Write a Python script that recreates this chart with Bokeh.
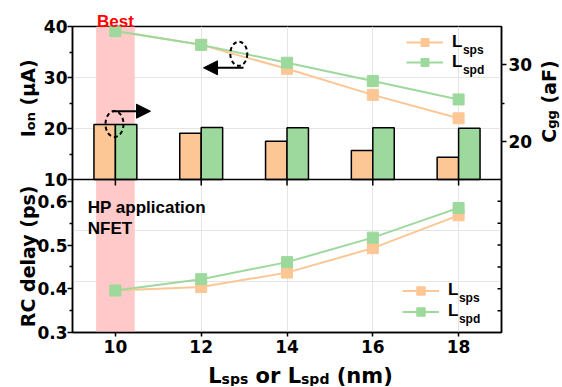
import numpy as np
from bokeh.plotting import figure
from bokeh.core.properties import value
from bokeh.models import (LinearAxis, Range1d, FixedTicker, CustomJSTickFormatter, Span,
                          BoxAnnotation, Label, Legend, LegendItem, Arrow, NormalHead, ColumnDataSource)
from bokeh.transform import dodge
from bokeh.embed import file_html
from bokeh.resources import INLINE

# ---------------- data ----------------
L_VALUES = [10, 12, 14, 16, 18]
ION_SPS = [39.1, 36.4, 31.7, 26.6, 22.0]
ION_SPD = [39.1, 36.4, 32.9, 29.3, 25.7]
CGG_SPS = [22.2, 21.05, 20.0, 18.8, 17.9]
CGG_SPD = [22.2, 21.8, 21.75, 21.75, 21.7]
RC_SPS = [0.396, 0.404, 0.437, 0.493, 0.568]
RC_SPD = [0.396, 0.422, 0.461, 0.517, 0.585]
BEST_L = 10
X_TICKS = [10, 12, 14, 16, 18]
ION_TICKS = [10, 20, 30, 40]
ION_MINOR = [15, 25, 35]
CGG_TICKS = [20, 30]
CGG_MINOR = [25]
RC_TICKS = [0.3, 0.4, 0.5, 0.6]
RC_MINOR = [0.35, 0.45, 0.55]
RC_RIGHT_TICKS = [0.35, 0.4, 0.45, 0.5, 0.55, 0.6]

# panel ranges (upper panel: Ion / Cgg, lower panel: RC delay)
X_MIN, X_MAX = 9, 19
ION_MIN, ION_MAX = 10, 40
CGG_MIN, CGG_MAX = 15, 35
RC_MIN, RC_MAX = 0.3, 0.65

ORANGE = "#FCC794"
GREEN = "#9DD99C"
BAND = "#FFC9C9"
INK = "black"

# ---------------- layout geometry (px) ----------------
W, H = 562, 386
BL, FW = 72, 429
BR = W - BL - FW
BT = 26
PH = 153                 # height of each panel
FH = 2 * PH
BB = H - BT - FH
F_TOP = BT
F_BOT = BT + FH

# each range is doubled downwards so that the upper panel holds Ion/Cgg and the lower panel RC
ION_RANGE = Range1d(ION_MIN - (ION_MAX - ION_MIN), ION_MAX)
CGG_RANGE = Range1d(CGG_MIN - (CGG_MAX - CGG_MIN), CGG_MAX)
RC_RANGE = Range1d(RC_MIN, RC_MAX + (RC_MAX - RC_MIN))


def dx(px):
    return X_MIN + (px - BL) * (X_MAX - X_MIN) / FW


def dy(py):  # page pixel -> Ion units (default range)
    return ION_MAX - (py - F_TOP) * (ION_MAX - ION_MIN) / PH


def rc_to_ion(v):
    return ION_MIN - (RC_MAX - v) / (RC_MAX - RC_MIN) * (ION_MAX - ION_MIN)


DV = {' ': .348, '(': .458, ')': .458, 'A': .774, 'C': .734, 'F': .683, 'I': .372, 'L': .637,
      'a': .675, 'd': .716, 'g': .716, 'm': 1.042, 'n': .712, 'o': .687, 'p': .716, 'r': .493,
      's': .595, 'μ': .722, 'R': .770, 'e': .678, 'l': .343, 'y': .652}
LB = {' ': .278, 'L': .611, 's': .556, 'p': .611, 'd': .611}


def tw(t, size, table):
    return sum(table.get(c, 0.6) for c in t) * size


TITLE_FONT = "DejaVu Sans"
TICK_FONT = "DejaVu Sans"
ANN_FONT = "Liberation Sans"

p = figure(width=W, height=H, x_range=Range1d(X_MIN, X_MAX), y_range=ION_RANGE,
           x_axis_location=None, y_axis_location=None, toolbar_location=None,
           output_backend="svg", title=None,
           min_border_left=BL, min_border_right=BR, min_border_top=BT, min_border_bottom=BB)
p.extra_y_ranges = {"cgg": CGG_RANGE, "rc": RC_RANGE}
p.outline_line_color = INK
p.outline_line_width = 1.5
p.outline_line_alpha = 1


def rich_text(pieces, center, base, vertical, font, table, color=INK):
    total = sum(tw(t, s, table) for t, s, _ in pieces)
    pos = center - total / 2 if not vertical else center + total / 2
    xs, ys, texts, sizes = [], [], [], []
    for t, s, d in pieces:
        lead = tw(' ' * (len(t) - len(t.lstrip())), s, table)
        if vertical:
            xs.append(dx(base + d))
            ys.append(dy(pos - lead))
            pos -= tw(t, s, table)
        else:
            xs.append(dx(pos + lead))
            ys.append(dy(base + d))
            pos += tw(t, s, table)
        texts.append(t.strip())
        sizes.append(f"{s}px")
    cds = ColumnDataSource(dict(x=xs, y=ys, text=texts, size=sizes))
    p.text(x="x", y="y", text="text", text_font_size="size", source=cds,
           angle=np.pi / 2 if vertical else 0, text_font=value(font), text_font_style="bold",
           text_align="left", text_baseline="alphabetic", text_color=color, level="annotation")


def style_axis(ax, tick_out=5, minor_out=3, standoff=0):
    ax.axis_line_color = INK
    ax.axis_line_width = 1.5
    ax.major_tick_line_color = INK
    ax.minor_tick_line_color = INK
    ax.major_tick_line_width = 1.5
    ax.minor_tick_line_width = 1.5
    ax.major_tick_in = 0
    ax.major_tick_out = tick_out
    ax.minor_tick_in = 0
    ax.minor_tick_out = minor_out
    ax.major_label_standoff = standoff
    ax.major_label_text_font = TICK_FONT
    ax.major_label_text_font_style = "bold"
    ax.major_label_text_font_size = "17px"
    ax.major_label_text_color = INK


# left axis: Ion ticks in the upper panel, RC ticks in the lower panel
axl = LinearAxis(ticker=FixedTicker(ticks=ION_TICKS + [rc_to_ion(v) for v in RC_TICKS],
                                    minor_ticks=ION_MINOR + [rc_to_ion(v) for v in RC_MINOR]),
                 formatter=CustomJSTickFormatter(
                     args=dict(imin=ION_MIN, ispan=ION_MAX - ION_MIN, rmax=RC_MAX, rspan=RC_MAX - RC_MIN),
                     code="""
                     if (tick >= imin - 1e-9) return tick.toFixed(0);
                     const v = rmax - (imin - tick) / ispan * rspan;
                     return v.toFixed(1);"""))
style_axis(axl, 5, 3, 0)
p.add_layout(axl, "left")

axr = LinearAxis(y_range_name="cgg", ticker=FixedTicker(ticks=CGG_TICKS, minor_ticks=CGG_MINOR))
style_axis(axr, 5, 3, 2)
p.add_layout(axr, "right")

axb = LinearAxis(ticker=FixedTicker(ticks=X_TICKS, minor_ticks=[]))
style_axis(axb, 4, 0, 3)
p.add_layout(axb, "below")

# divider between the two panels and inner ticks
p.add_layout(Span(location=ION_MIN, dimension="width", line_color=INK, line_width=1.5))
p.ray(x=X_TICKS, y=[ION_MIN] * len(X_TICKS), length=6, length_units="screen", angle=-np.pi / 2,
      line_color=INK, line_width=1.5)
p.ray(x=[X_MAX] * len(RC_RIGHT_TICKS), y=RC_RIGHT_TICKS, y_range_name="rc", length=4,
      length_units="screen", angle=np.pi, line_color=INK, line_width=1.5)

p.add_layout(BoxAnnotation(left=BEST_L - 0.45, right=BEST_L + 0.45, fill_color=BAND, fill_alpha=1,
                           line_color=None, level="underlay"))

src = ColumnDataSource(dict(x=L_VALUES, ion_sps=ION_SPS, ion_spd=ION_SPD,
                            cgg_sps=CGG_SPS, cgg_spd=CGG_SPD, rc_sps=RC_SPS, rc_spd=RC_SPD))

# bars (Cgg)
p.vbar(x=dodge("x", -0.25, range=p.x_range), top="cgg_sps", bottom=CGG_MIN, width=0.5,
       y_range_name="cgg", source=src, fill_color=ORANGE, line_color=INK, line_width=1.5)
p.vbar(x=dodge("x", 0.25, range=p.x_range), top="cgg_spd", bottom=CGG_MIN, width=0.5,
       y_range_name="cgg", source=src, fill_color=GREEN, line_color=INK, line_width=1.5)

# Ion lines
l1 = p.line("x", "ion_sps", source=src, line_color=ORANGE, line_width=2)
m1 = p.scatter("x", "ion_sps", source=src, marker="square", size=11, fill_color=ORANGE, line_color=ORANGE)
l2 = p.line("x", "ion_spd", source=src, line_color=GREEN, line_width=2)
m2 = p.scatter("x", "ion_spd", source=src, marker="square", size=11, fill_color=GREEN, line_color=GREEN)

# RC lines
r1 = p.line("x", "rc_sps", source=src, y_range_name="rc", line_color=ORANGE, line_width=2)
s1 = p.scatter("x", "rc_sps", source=src, y_range_name="rc", marker="square", size=11,
               fill_color=ORANGE, line_color=ORANGE)
r2 = p.line("x", "rc_spd", source=src, y_range_name="rc", line_color=GREEN, line_width=2)
s2 = p.scatter("x", "rc_spd", source=src, y_range_name="rc", marker="square", size=11,
               fill_color=GREEN, line_color=GREEN)


def add_legend(items, lx, top_row, pitch):
    leg = Legend(items=items, location=(lx, F_BOT - (top_row - pitch / 2 + 2 * pitch)),
                 padding=0, spacing=0, margin=0, glyph_width=37, glyph_height=pitch,
                 label_height=pitch, label_width=10, label_standoff=9, border_line_color=None,
                 background_fill_alpha=0, label_text_font=ANN_FONT, label_text_font_style="bold",
                 label_text_font_size="17px", label_text_color=INK)
    p.add_layout(leg)
    x_sub = BL + lx + 37 + 9 + tw("L", 17, LB)
    for i, sub in enumerate(["sps", "spd"]):
        p.add_layout(Label(x=dx(x_sub), y=dy(top_row + i * pitch + 7.8), text=sub, text_font=ANN_FONT,
                           text_font_style="bold", text_font_size="12px", text_align="left",
                           text_baseline="alphabetic", text_color=INK))


add_legend([LegendItem(label="L", renderers=[l1, m1]), LegendItem(label="L", renderers=[l2, m2])],
           334, 41.7, 20)
add_legend([LegendItem(label="L", renderers=[r1, s1]), LegendItem(label="L", renderers=[r2, s2])],
           330, 290.0, 21)

# annotation ellipses and arrows
p.ellipse(x=[dx(238.3), dx(114.0)], y=[dy(53.3), dy(123.5)], width=[17, 18], height=[24, 26],
          width_units="screen", height_units="screen", fill_color=None, line_color=INK,
          line_width=2, line_dash="4 3")
p.add_layout(Arrow(end=NormalHead(size=14, fill_color=INK, line_color=INK),
                   x_start=dx(243), y_start=dy(67.3), x_end=dx(203), y_end=dy(67.3),
                   line_width=2, line_color=INK))
p.add_layout(Arrow(end=NormalHead(size=14, fill_color=INK, line_color=INK),
                   x_start=dx(112), y_start=dy(110.7), x_end=dx(150), y_end=dy(110.7),
                   line_width=2, line_color=INK))

p.text(x=[BEST_L], y=[dy(21)], text=["Best"], text_font=value(ANN_FONT), text_font_style="bold",
       text_font_size="17px", text_color="#FF0000", text_align="center", text_baseline="alphabetic",
       level="annotation")

p.add_layout(Label(x=dx(87.3), y=dy(206.7), text="HP application", text_font=ANN_FONT,
                   text_font_style="bold", text_font_size="17px", text_align="left",
                   text_baseline="alphabetic", text_color=INK))
p.add_layout(Label(x=dx(87.3), y=dy(228.3), text="NFET", text_font=ANN_FONT,
                   text_font_style="bold", text_font_size="17px", text_align="left",
                   text_baseline="alphabetic", text_color=INK))

# axis titles
rich_text([("I", 19, 0), ("on", 13, 3), (" (μA)", 19, 0)], 98, 27, True, TITLE_FONT, DV)
rich_text([("C", 19, 0), ("gg", 13, 2.5), (" (aF)", 19, 0)], 101, 548, True, TITLE_FONT, DV)
rich_text([("RC delay (ps)", 19, 0)], 255.5, 27, True, TITLE_FONT, DV)
rich_text([("L", 21, 0), ("sps", 14, 3), (" or L", 21, 0), ("spd", 14, 3), (" (nm)", 21, 0)],
          300, 375, False, TITLE_FONT, DV)

open("out.html", "w").write(file_html(p, INLINE))
